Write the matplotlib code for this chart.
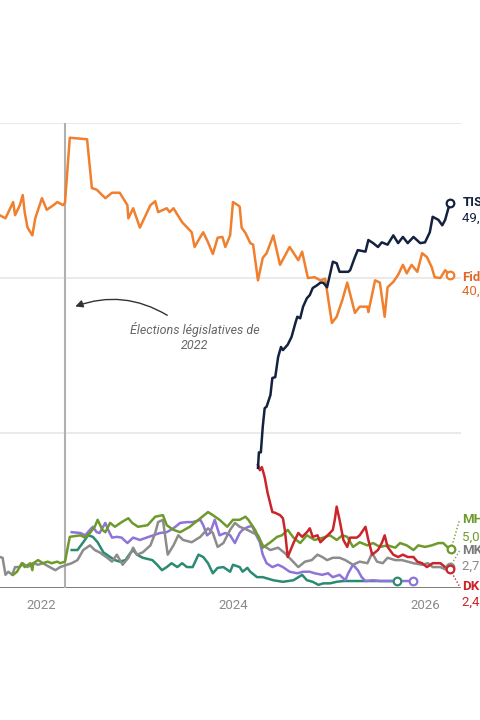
import matplotlib
matplotlib.use("Agg")
import matplotlib.pyplot as plt

plt.rcParams["font.family"] = ["Roboto", "DejaVu Sans"]

# Sondages (intentions de vote, %) - date en années décimales
fidesz_t = [2021.57, 2021.63, 2021.71, 2021.73, 2021.78, 2021.81, 2021.83, 2021.86, 2021.91, 2021.94,
            2022.01, 2022.06, 2022.13, 2022.17, 2022.23, 2022.25, 2022.30, 2022.48, 2022.53, 2022.58,
            2022.67, 2022.74, 2022.82, 2022.90, 2022.91, 2022.96, 2023.03, 2023.14, 2023.19, 2023.22,
            2023.31, 2023.34, 2023.38, 2023.47, 2023.57, 2023.60, 2023.66, 2023.69, 2023.74, 2023.79,
            2023.84, 2023.89, 2023.92, 2023.97, 2024.00, 2024.05, 2024.07, 2024.09, 2024.13, 2024.18,
            2024.21, 2024.26, 2024.31, 2024.35, 2024.42, 2024.49, 2024.59, 2024.68, 2024.72, 2024.78,
            2024.85, 2024.91, 2024.96, 2025.03, 2025.08, 2025.14, 2025.19, 2025.27, 2025.32, 2025.40,
            2025.41, 2025.48, 2025.53, 2025.58, 2025.61, 2025.67, 2025.72, 2025.77, 2025.81, 2025.86,
            2025.92, 2025.97, 2026.02, 2026.07, 2026.10, 2026.16, 2026.21, 2026.26]
fidesz_v = [48.1, 47.7, 49.8, 48.1, 49.4, 50.7, 48.5, 46.5, 45.5, 47.7,
            50.3, 48.8, 49.4, 49.8, 49.4, 49.7, 58.1, 57.9, 51.6, 51.4,
            50.3, 51.0, 51.0, 49.4, 47.7, 49.0, 46.5, 49.4, 49.9, 48.5,
            49.0, 48.5, 49.0, 47.2, 45.9, 44.0, 45.3, 45.9, 44.6, 43.1,
            45.2, 45.3, 44.0, 45.5, 49.8, 49.4, 49.2, 46.5, 45.8, 44.5,
            44.3, 39.7, 42.6, 43.2, 45.5, 41.7, 44.0, 42.3, 43.4, 40.0,
            40.1, 39.7, 39.9, 34.2, 35.0, 37.2, 39.4, 35.5, 36.3, 36.3,
            35.6, 39.7, 39.4, 35.0, 38.8, 39.5, 40.4, 41.7, 40.6, 41.7,
            40.8, 43.2, 42.7, 41.4, 40.1, 40.0, 41.0, 40.4]

tisza_t = [2024.26, 2024.27, 2024.29, 2024.31, 2024.33, 2024.35, 2024.39, 2024.41, 2024.44, 2024.47,
           2024.50, 2024.52, 2024.57, 2024.61, 2024.65, 2024.67, 2024.70, 2024.73, 2024.77, 2024.80,
           2024.83, 2024.88, 2024.91, 2024.94, 2024.98, 2025.04, 2025.08, 2025.11, 2025.20, 2025.22,
           2025.27, 2025.30, 2025.38, 2025.41, 2025.46, 2025.51, 2025.55, 2025.61, 2025.67, 2025.72,
           2025.77, 2025.82, 2025.88, 2025.95, 2026.00, 2026.05, 2026.08, 2026.14, 2026.18, 2026.21,
           2026.23, 2026.26]
tisza_v = [15.5, 17.5, 17.5, 20.8, 23.2, 23.4, 24.9, 27.1, 27.2, 29.8,
           31.1, 30.7, 31.4, 32.4, 34.2, 35.0, 34.8, 36.3, 37.4, 37.8,
           38.7, 39.1, 39.4, 39.4, 38.8, 42.1, 41.9, 40.8, 40.8, 41.0,
           42.7, 43.6, 43.4, 44.9, 44.5, 44.0, 44.6, 44.3, 45.5, 44.5,
           45.3, 44.5, 45.3, 44.5, 44.6, 45.9, 47.9, 47.5, 46.8, 47.5,
           48.4, 49.7]

dk_t = [2024.26, 2024.28, 2024.30, 2024.31, 2024.33, 2024.36, 2024.41, 2024.44, 2024.49, 2024.52,
        2024.54, 2024.57, 2024.63, 2024.68, 2024.72, 2024.77, 2024.80, 2024.83, 2024.88, 2024.91,
        2024.96, 2025.01, 2025.04, 2025.06, 2025.08, 2025.11, 2025.15, 2025.19, 2025.22, 2025.29,
        2025.32, 2025.38, 2025.41, 2025.45, 2025.51, 2025.55, 2025.58, 2025.61, 2025.67, 2025.72,
        2025.77, 2025.82, 2025.88, 2025.92, 2025.97, 2026.02, 2026.08, 2026.16, 2026.21, 2026.26]
dk_v = [15.9, 15.2, 15.6, 15.2, 14.3, 12.3, 9.8, 9.7, 9.4, 9.0,
        7.5, 4.0, 5.8, 7.1, 6.6, 7.2, 7.7, 6.6, 6.8, 5.9,
        6.5, 7.1, 7.5, 8.8, 10.5, 8.8, 6.2, 5.3, 6.5, 6.5,
        6.8, 7.9, 6.2, 4.3, 4.9, 5.8, 6.8, 5.3, 4.3, 4.0,
        4.3, 4.0, 4.0, 3.4, 3.2, 2.7, 3.2, 3.2, 2.7, 2.4]

mh_t = [2021.71, 2021.75, 2021.80, 2021.83, 2021.89, 2021.91, 2021.92, 2021.97, 2022.02, 2022.07,
        2022.11, 2022.17, 2022.20, 2022.25, 2022.30, 2022.41, 2022.46, 2022.51, 2022.56, 2022.59,
        2022.64, 2022.67, 2022.72, 2022.77, 2022.84, 2022.91, 2022.95, 2023.01, 2023.11, 2023.19,
        2023.27, 2023.31, 2023.38, 2023.45, 2023.55, 2023.66, 2023.74, 2023.79, 2023.86, 2023.94,
        2024.00, 2024.07, 2024.13, 2024.16, 2024.23, 2024.28, 2024.31, 2024.39, 2024.46, 2024.51,
        2024.57, 2024.63, 2024.70, 2024.77, 2024.85, 2024.94, 2025.01, 2025.08, 2025.14, 2025.19,
        2025.25, 2025.32, 2025.40, 2025.46, 2025.53, 2025.61, 2025.69, 2025.74, 2025.81, 2025.88,
        2025.93, 2026.00, 2026.07, 2026.14, 2026.19, 2026.24, 2026.27]
mh_v = [1.7, 2.1, 3.2, 2.7, 3.2, 2.3, 3.2, 3.6, 3.2, 3.4,
        3.2, 3.4, 3.2, 3.4, 6.6, 6.8, 6.5, 7.1, 7.9, 8.8,
        7.5, 7.2, 8.4, 7.9, 8.5, 9.0, 8.4, 7.9, 8.1, 9.2,
        9.4, 8.1, 7.5, 7.2, 7.9, 9.0, 9.8, 9.4, 8.8, 7.9,
        8.8, 8.8, 9.2, 8.8, 7.5, 6.2, 5.2, 5.9, 6.6, 6.8,
        7.5, 6.5, 5.8, 6.8, 6.2, 6.5, 6.8, 6.2, 6.8, 6.6,
        5.3, 5.9, 5.5, 5.8, 5.3, 5.5, 5.2, 5.8, 5.5, 4.9,
        5.5, 5.3, 5.5, 5.8, 5.8, 5.2, 5.0]

mkkp_t = [2021.57, 2021.60, 2021.63, 2021.66, 2021.70, 2021.73, 2021.78, 2021.81, 2021.86, 2021.92,
          2021.97, 2022.02, 2022.09, 2022.15, 2022.20, 2022.27, 2022.32, 2022.38, 2022.44, 2022.51,
          2022.56, 2022.61, 2022.69, 2022.74, 2022.79, 2022.85, 2022.91, 2022.96, 2023.00, 2023.06,
          2023.14, 2023.19, 2023.22, 2023.27, 2023.32, 2023.38, 2023.43, 2023.48, 2023.57, 2023.66,
          2023.74, 2023.79, 2023.84, 2023.90, 2023.97, 2024.02, 2024.07, 2024.15, 2024.21, 2024.26,
          2024.31, 2024.39, 2024.47, 2024.54, 2024.61, 2024.68, 2024.75, 2024.82, 2024.88, 2024.93,
          2024.98, 2025.04, 2025.11, 2025.17, 2025.25, 2025.32, 2025.40, 2025.45, 2025.50, 2025.56,
          2025.61, 2025.69, 2025.76, 2025.82, 2025.88, 2025.97, 2026.03, 2026.08, 2026.16, 2026.23,
          2026.26]
mkkp_v = [4.0, 3.9, 1.7, 2.1, 1.7, 2.7, 2.7, 3.2, 2.7, 3.2,
          3.0, 3.2, 2.7, 2.3, 2.7, 3.0, 3.2, 3.6, 4.9, 5.5,
          4.9, 4.6, 3.9, 3.4, 4.3, 3.0, 3.9, 5.2, 4.3, 4.6,
          5.5, 7.1, 8.5, 8.8, 4.3, 5.5, 6.8, 6.2, 5.9, 6.6,
          7.7, 7.1, 5.3, 5.8, 7.5, 8.4, 7.9, 7.5, 7.1, 6.8,
          5.5, 4.9, 5.2, 4.5, 3.6, 2.7, 3.4, 3.6, 4.3, 4.0,
          3.6, 3.9, 3.9, 3.6, 3.0, 3.4, 3.2, 4.5, 3.4, 3.2,
          3.9, 3.6, 3.6, 3.4, 3.2, 3.0, 3.2, 2.7, 2.7, 2.3,
          2.7]

teal_t = [2022.32, 2022.38, 2022.44, 2022.49, 2022.54, 2022.59, 2022.65, 2022.72, 2022.77, 2022.82,
          2022.88, 2022.93, 2022.96, 2023.00, 2023.06, 2023.16, 2023.21, 2023.26, 2023.31, 2023.36,
          2023.42, 2023.47, 2023.52, 2023.58, 2023.64, 2023.69, 2023.74, 2023.79, 2023.84, 2023.90,
          2023.97, 2024.00, 2024.07, 2024.10, 2024.15, 2024.18, 2024.25, 2024.31, 2024.42, 2024.52,
          2024.63, 2024.72, 2024.77, 2024.83, 2024.89, 2024.94, 2025.01, 2025.08, 2025.15, 2025.29,
          2025.50, 2025.71]
teal_v = [4.9, 4.9, 5.9, 6.8, 6.6, 5.9, 4.6, 4.0, 3.6, 3.4,
          3.6, 4.5, 4.9, 4.3, 3.9, 3.6, 3.0, 2.3, 2.7, 3.2,
          2.7, 3.2, 2.7, 2.7, 4.3, 4.0, 3.2, 1.9, 2.6, 2.7,
          2.1, 3.0, 2.7, 2.1, 2.6, 2.1, 1.4, 1.4, 1.0, 0.8,
          1.0, 1.7, 1.0, 0.8, 0.4, 0.6, 0.6, 0.8, 0.9, 0.9,
          0.9, 0.9]

purple_t = [2022.32, 2022.41, 2022.46, 2022.51, 2022.54, 2022.58, 2022.61, 2022.67, 2022.70, 2022.74,
            2022.79, 2022.84, 2022.90, 2022.96, 2023.03, 2023.10, 2023.17, 2023.24, 2023.31, 2023.38,
            2023.45, 2023.52, 2023.58, 2023.66, 2023.69, 2023.73, 2023.76, 2023.81, 2023.86, 2023.92,
            2023.97, 2024.02, 2024.05, 2024.07, 2024.10, 2024.16, 2024.20, 2024.23, 2024.28, 2024.31,
            2024.35, 2024.41, 2024.47, 2024.52, 2024.59, 2024.67, 2024.73, 2024.80, 2024.85, 2024.93,
            2024.99, 2025.04, 2025.11, 2025.17, 2025.20, 2025.25, 2025.30, 2025.34, 2025.38, 2025.46,
            2025.53, 2025.88]
purple_v = [7.2, 7.1, 6.8, 7.5, 7.9, 7.2, 7.1, 8.4, 7.5, 6.5,
            6.6, 6.5, 5.8, 6.5, 6.2, 6.5, 6.8, 7.1, 7.2, 7.7,
            8.4, 8.5, 8.5, 8.8, 8.1, 6.8, 7.1, 8.8, 6.8, 7.1,
            6.8, 5.8, 6.6, 7.1, 7.5, 7.9, 8.0, 7.1, 5.9, 4.3,
            3.2, 2.7, 3.0, 2.7, 2.1, 1.9, 2.1, 2.1, 1.9, 1.7,
            1.9, 1.4, 1.7, 1.0, 1.9, 3.0, 2.3, 1.4, 0.9, 1.0,
            0.9, 0.9]

election_date = 2022.25
election_text = "Élections législatives de\n2022"
year_ticks = [2022, 2024, 2026]

# couleurs
c_fidesz = "#f07f2e"
c_fidesz_txt = "#e0692a"
c_tisza = "#14213f"
c_dk = "#c9252b"
c_mh = "#6e9a2c"
c_mkkp = "#8c8c8c"
c_teal = "#2b8a72"
c_purple = "#8e74d8"

fig = plt.figure(figsize=(4.8, 7.2), dpi=100)
ax = fig.add_axes([0, 132 / 720, 461 / 480, 465 / 720])
ax.set_xlim(2021.573, 2026.375)
ax.set_ylim(0, 60)
for s in ax.spines.values():
    s.set_visible(False)

for g in [20, 40, 60]:
    ax.axhline(g, color="#e6e6e6", lw=1.2, zorder=0)
ax.axhline(0, color="#666666", lw=1.2, zorder=1)
ax.axvline(election_date, color="#b0b0b0", lw=1.5, zorder=1)

ax.set_xticks(year_ticks)
ax.set_xticklabels([str(y) for y in year_ticks], fontsize=9.5, color="#8a8a8a")
ax.set_yticks([])
ax.tick_params(axis="x", length=0, pad=8)

lw = 1.8
series = [
    (teal_t, teal_v, c_teal),
    (purple_t, purple_v, c_purple),
    (mkkp_t, mkkp_v, c_mkkp),
    (mh_t, mh_v, c_mh),
    (dk_t, dk_v, c_dk),
    (fidesz_t, fidesz_v, c_fidesz),
    (tisza_t, tisza_v, c_tisza),
]
for i, (t, v, c) in enumerate(series):
    ax.plot(t, v, color=c, lw=lw, solid_joinstyle="round", zorder=3 + i)
    ax.plot(t[-1], v[-1], "o", ms=5.5, mfc="white", mec=c, mew=1.6, zorder=10 + i, clip_on=False)

# étiquettes de fin de série (coupées par le bord de l'image, comme dans l'original)
lab_x = 2026.39
labels = [
    ("TISZA", "49,7 %", c_tisza, c_tisza, 49.8, 47.7, False),
    ("Fidesz", "40,4 %", c_fidesz_txt, c_fidesz_txt, 40.1, 38.3, False),
    ("MH", "5,0 %", c_mh, c_mh, 8.8, 6.6, True),
    ("MKKP", "2,7 %", "#7a7a7a", "#8a8a8a", 4.8, 2.8, True),
    ("DK-MSZP", "2,4 %", c_dk, c_dk, 0.2, -1.9, True),
]
ends = {"MH": (mh_t, mh_v, c_mh), "MKKP": (mkkp_t, mkkp_v, c_mkkp), "DK-MSZP": (dk_t, dk_v, c_dk)}
for name, val, c1, c2, y1, y2, conn in labels:
    ax.text(lab_x, y1, name, color=c1, fontsize=9.5, fontweight="bold", va="center", ha="left", clip_on=False)
    ax.text(lab_x, y2, val, color=c2, fontsize=9.5, va="center", ha="left", clip_on=False)
    if conn:
        t, v, c = ends[name]
        ax.plot([t[-1], lab_x - 0.03], [v[-1], y1], color=c, lw=1, ls=(0, (1, 1.5)), clip_on=False, zorder=2)

# annotation élections
ax.annotate("", xy=(2022.33, 36.2), xytext=(2023.34, 35.0),
            arrowprops=dict(arrowstyle="-|>", color="#333333", lw=1,
                            connectionstyle="arc3,rad=0.25", mutation_scale=11))
ax.text(2023.60, 32.4, election_text, fontsize=9, style="italic", color="#666666",
        ha="center", va="center", linespacing=1.2)

fig.savefig("out.png", dpi=100)
